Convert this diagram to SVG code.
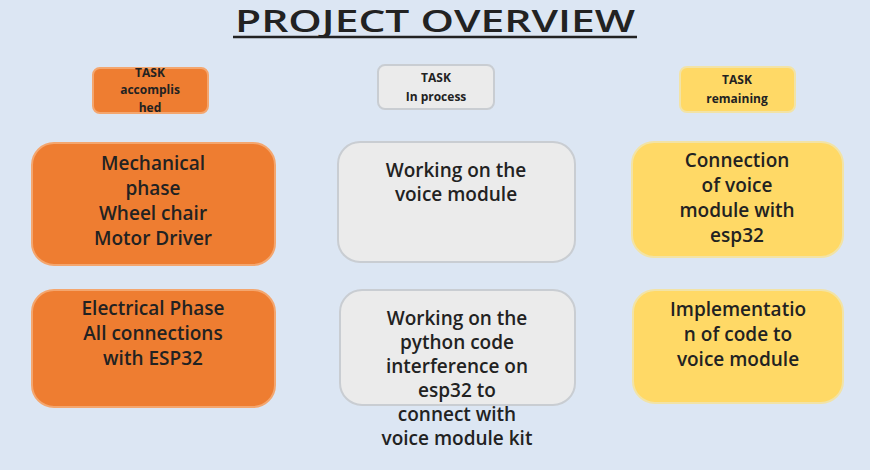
<svg xmlns="http://www.w3.org/2000/svg" width="870" height="470" viewBox="0 0 870 470">
<style>
text{font-family:"Open Sans","Liberation Sans",sans-serif;fill:#222;text-anchor:middle;font-weight:600}
.o{fill:#EE7D31;stroke:#F4A66E;stroke-width:2}
.g{fill:#EBEBEB;stroke:#C9CDD2;stroke-width:2}
.y{fill:#FFD966;stroke:#F2E3A6;stroke-width:2}
.s{font-size:12px;font-weight:700}
.b{font-size:19px}
</style>
<rect width="870" height="470" fill="#DCE6F3"/>
<g id="title"><text x="435" y="32" font-size="30" font-weight="700" textLength="400" lengthAdjust="spacingAndGlyphs">PROJECT OVERVIEW</text><line x1="233" y1="37" x2="637" y2="37" stroke="#222" stroke-width="2.5"/></g>
<g id="lbl1"><rect class="o" x="93" y="68" width="115" height="45" rx="7"/><text class="s" x="150" y="77">TASK</text><text class="s" x="150" y="94">accomplis</text><text class="s" x="150" y="112">hed</text></g>
<g id="lbl2"><rect class="g" x="378" y="65" width="116" height="44" rx="7"/><text class="s" x="436" y="82">TASK</text><text class="s" x="436" y="101">In process</text></g>
<g id="lbl3"><rect class="y" x="680" y="67" width="115" height="45" rx="7"/><text class="s" x="737" y="84">TASK</text><text class="s" x="737" y="103">remaining</text></g>
<g id="n1"><rect class="o" x="32" y="143" width="243" height="122" rx="22"/><text class="b" x="153" y="170">Mechanical</text><text class="b" x="153" y="195">phase</text><text class="b" x="153" y="220">Wheel chair</text><text class="b" x="153" y="245">Motor Driver</text></g>
<g id="n2"><rect class="g" x="338" y="142" width="237" height="120" rx="22"/><text class="b" x="456" y="177">Working on the</text><text class="b" x="456" y="201">voice module</text></g>
<g id="n3"><rect class="y" x="632" y="142" width="211" height="115" rx="22"/><text class="b" x="737" y="167">Connection</text><text class="b" x="737" y="192">of voice</text><text class="b" x="737" y="217">module with</text><text class="b" x="737" y="242">esp32</text></g>
<g id="n4"><rect class="o" x="32" y="290" width="243" height="117" rx="22"/><text class="b" x="153" y="315">Electrical Phase</text><text class="b" x="153" y="340">All connections</text><text class="b" x="153" y="365">with ESP32</text></g>
<g id="n5"><rect class="g" x="340" y="290" width="235" height="115" rx="22"/><text class="b" x="457" y="325">Working on the</text><text class="b" x="457" y="349">python code</text><text class="b" x="457" y="373">interference on</text><text class="b" x="457" y="397">esp32 to</text><text class="b" x="457" y="421">connect with</text><text class="b" x="457" y="445">voice module kit</text></g>
<g id="n6"><rect class="y" x="633" y="290" width="210" height="113" rx="22"/><text class="b" x="738" y="316">Implementatio</text><text class="b" x="738" y="341">n of code to</text><text class="b" x="738" y="366">voice module</text></g>
<g id="connectors"/>
</svg>
